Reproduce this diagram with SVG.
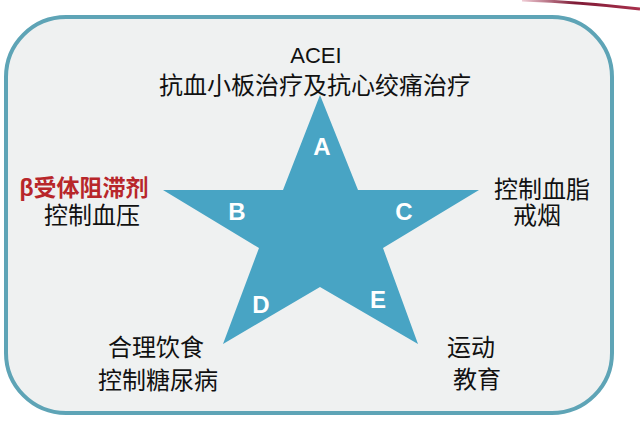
<svg xmlns="http://www.w3.org/2000/svg" width="640" height="424" viewBox="0 0 640 424">
<defs>
<linearGradient id="deco" x1="0" y1="0" x2="1" y2="0">
<stop offset="0" stop-color="#f0ccd5"/>
<stop offset="0.45" stop-color="#7e1a35"/>
<stop offset="1" stop-color="#a8304c"/>
</linearGradient>
<style>
.t{font-family:"Liberation Sans","Noto Sans CJK SC",sans-serif;font-size:24px;fill:#111;text-anchor:middle}
.red{fill:#b8262a;font-weight:bold;font-size:23px}
.l{font-family:"Liberation Sans",Arial,sans-serif;font-size:24px;font-weight:bold;fill:#ffffff;text-anchor:middle}
</style>
</defs>
<rect width="640" height="424" fill="#ffffff"/>
<path d="M522,0 Q580,2 640,9" fill="none" stroke="url(#deco)" stroke-width="3"/>
<g id="frame">
<rect x="6" y="17" width="606" height="396" rx="60" ry="60" fill="#eff1f1" stroke="#5ea4b6" stroke-width="4"/>
</g>
<g id="star">
<polygon points="320,95 358,190 479,190 383,248 418,344 320,287 223,344 259,248 163,190 283,190" fill="#48a4c4"/>
<text class="l" x="322" y="155">A</text>
<text class="l" x="237" y="220">B</text>
<text class="l" x="404" y="220">C</text>
<text class="l" x="261" y="313">D</text>
<text class="l" x="378" y="308">E</text>
</g>
<g id="node-a">
<text class="t" x="316" y="63" style="font-size:22px">ACEI</text>
<text class="t" x="315" y="94">抗血小板治疗及抗心绞痛治疗</text>
</g>
<g id="node-b">
<text class="t red" x="84" y="196">β受体阻滞剂</text>
<text class="t" x="92" y="224">控制血压</text>
</g>
<g id="node-c">
<text class="t" x="542" y="198">控制血脂</text>
<text class="t" x="537" y="224">戒烟</text>
</g>
<g id="node-d">
<text class="t" x="156" y="356">合理饮食</text>
<text class="t" x="158" y="389">控制糖尿病</text>
</g>
<g id="node-e">
<text class="t" x="471" y="356">运动</text>
<text class="t" x="477" y="388">教育</text>
</g>
</svg>
